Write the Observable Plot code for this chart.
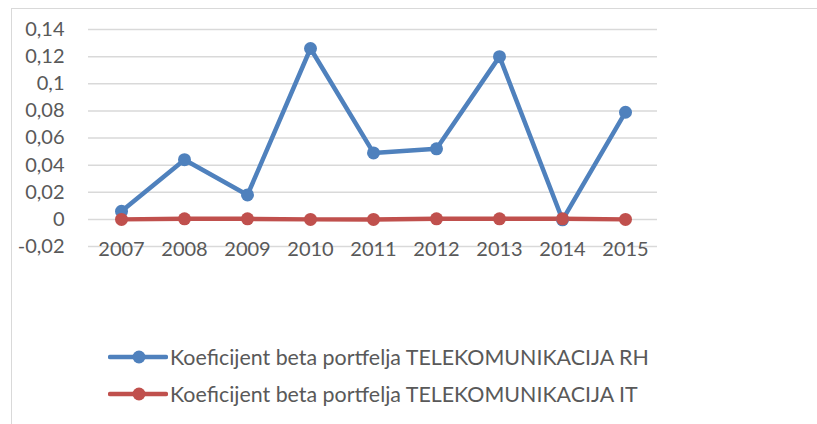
<!DOCTYPE html>
<html><head><meta charset="utf-8">
<script src="https://cdn.jsdelivr.net/npm/d3@7"></script>
<script src="https://cdn.jsdelivr.net/npm/@observablehq/plot@0.6"></script>
<style>
body{margin:0;background:#fff;font-family:Lato,"Open Sans",sans-serif;}
#wrap{position:relative;width:817px;height:424px;overflow:hidden;}
#frame{position:absolute;left:11px;top:8px;width:900px;height:500px;border-left:1.5px solid #d9d9d9;border-top:1.5px solid #d9d9d9;}
#chart{position:absolute;left:0;top:0;}
#legend{position:absolute;left:108px;top:338px;color:#595959;font-size:21.4px;}
.item{display:flex;align-items:center;height:37px;}
.item svg{margin-right:2px;}
</style></head>
<body>
<div id="wrap"><div id="frame"></div><div id="chart"></div><div id="legend"></div></div>
<script>
const years = ["2007","2008","2009","2010","2011","2012","2013","2014","2015"];
const seriesNames = ["Koeficijent beta portfelja TELEKOMUNIKACIJA RH","Koeficijent beta portfelja TELEKOMUNIKACIJA IT"];
const valuesRH = [0.006,0.044,0.018,0.126,0.049,0.052,0.120,-0.0003,0.079];
const valuesIT = [0.0,0.0004,0.0004,0.0,0.0,0.0004,0.0004,0.0004,0.0];
const yTicks = [-0.02,0,0.02,0.04,0.06,0.08,0.1,0.12,0.14];
const colors = ["#4f81bd","#c0504d"];

const data = [];
years.forEach((y,i)=>{data.push({year:y,value:valuesRH[i],series:seriesNames[0]});});
years.forEach((y,i)=>{data.push({year:y,value:valuesIT[i],series:seriesNames[1]});});

const fmt = d => String(+d.toFixed(2)).replace(".",",");

const chart = Plot.plot({
  width:817, height:270,
  marginLeft:88, marginRight:160, marginTop:29, marginBottom:24,
  style:{fontFamily:"Lato, 'Open Sans', sans-serif", fontSize:"20px", color:"#595959", background:"transparent"},
  x:{type:"point", domain:years, padding:0.5, label:null},
  y:{domain:[-0.02,0.14], label:null},
  color:{domain:seriesNames, range:colors},
  marks:[
    Plot.ruleY(yTicks,{stroke:"#d9d9d9", strokeWidth:1.5}),
    Plot.axisY(yTicks,{tickSize:0, tickPadding:24, tickFormat:fmt, label:null, fill:"#595959", fontSize:20}),
    Plot.axisX({anchor:"bottom", tickSize:0, tickPadding:-5, label:null, fill:"#595959", fontSize:20}),
    Plot.line(data,{x:"year", y:"value", z:"series", stroke:"series", strokeWidth:4.5, strokeLinejoin:"round", strokeLinecap:"round"}),
    Plot.dot(data,{x:"year", y:"value", fill:"series", r:6.5, stroke:null})
  ]
});
document.getElementById("chart").appendChild(chart);

const legend = document.getElementById("legend");
seriesNames.forEach((name,i)=>{
  const item = document.createElement("div");
  item.className="item";
  item.innerHTML = `<svg width="60" height="16"><line x1="2" y1="8" x2="58" y2="8" stroke="${colors[i]}" stroke-width="4.5" stroke-linecap="round"/><circle cx="31" cy="8" r="6.5" fill="${colors[i]}"/></svg><span>${name}</span>`;
  legend.appendChild(item);
});
</script>
</body></html>
